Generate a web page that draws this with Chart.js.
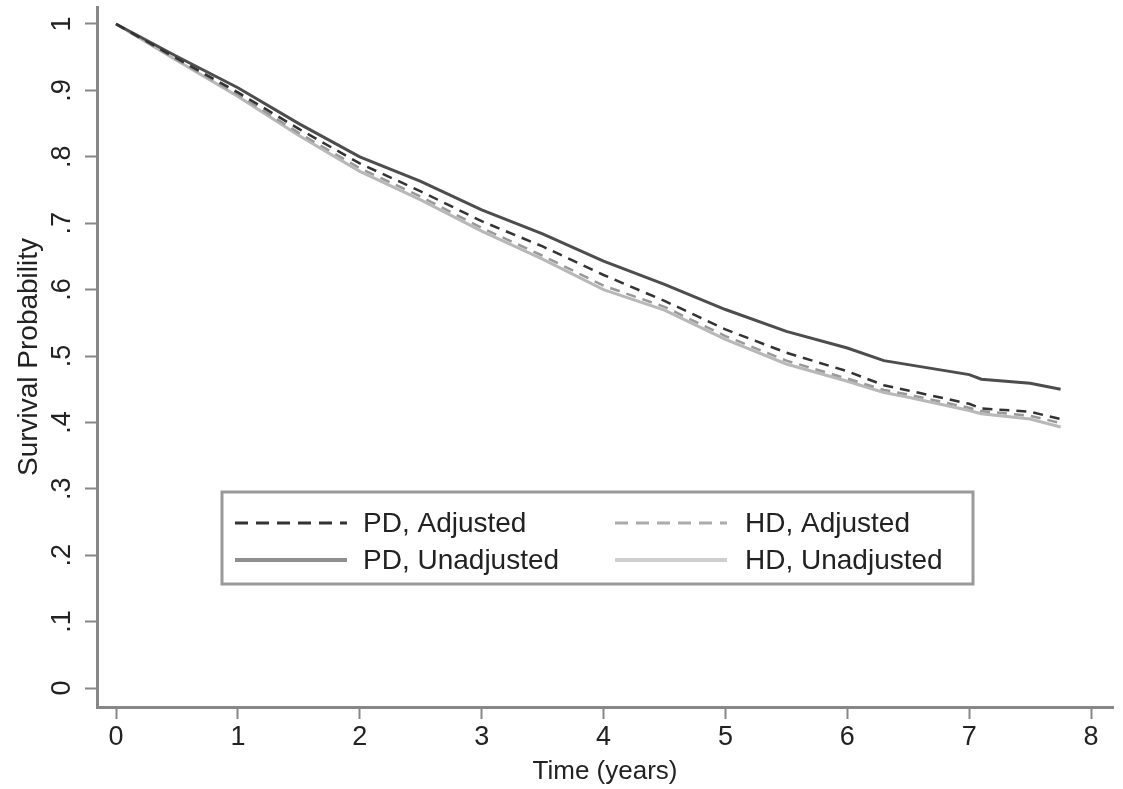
<!DOCTYPE html>
<html>
<head>
<meta charset="utf-8">
<script src="https://cdn.jsdelivr.net/npm/chart.js@4.4.0/dist/chart.umd.min.js"></script>
<style>
  html, body { margin: 0; padding: 0; background: #ffffff; }
  #wrap { width: 1123px; height: 789px; }
</style>
</head>
<body>
<div id="wrap"><canvas id="c" width="1123" height="789"></canvas></div>
<script>
// ---- data ----
const times = [0, 0.5, 1, 1.5, 2, 2.5, 3, 3.5, 4, 4.5, 5, 5.5, 6, 6.3, 6.5, 7, 7.1, 7.5, 7.75];
const pdUnadjusted = [1, 0.951, 0.904, 0.850, 0.800, 0.763, 0.720, 0.684, 0.643, 0.608, 0.570, 0.537, 0.512, 0.493, 0.487, 0.472, 0.465, 0.459, 0.450];
const pdAdjusted   = [1, 0.948, 0.897, 0.842, 0.790, 0.748, 0.703, 0.665, 0.622, 0.583, 0.540, 0.505, 0.477, 0.456, 0.448, 0.428, 0.421, 0.416, 0.405];
const hdAdjusted   = [1, 0.946, 0.894, 0.836, 0.783, 0.740, 0.693, 0.651, 0.606, 0.574, 0.530, 0.493, 0.466, 0.449, 0.442, 0.422, 0.417, 0.410, 0.399];
const hdUnadjusted = [1, 0.945, 0.891, 0.832, 0.778, 0.735, 0.688, 0.646, 0.600, 0.569, 0.525, 0.488, 0.462, 0.445, 0.438, 0.418, 0.413, 0.405, 0.393];
const seriesLabels = ['PD, Adjusted', 'PD, Unadjusted', 'HD, Adjusted', 'HD, Unadjusted'];
const xTickValues = [0, 1, 2, 3, 4, 5, 6, 7, 8];
const yTickValues = [0, 0.1, 0.2, 0.3, 0.4, 0.5, 0.6, 0.7, 0.8, 0.9, 1];
const yTickLabels = ['0', '.1', '.2', '.3', '.4', '.5', '.6', '.7', '.8', '.9', '1'];
const xTitle = 'Time (years)';
const yTitle = 'Survival Probability';

const FONT = '"Liberation Sans", Arial, Helvetica, sans-serif';
const TEXT = '#222222';
const AXIS = '#878787';

const toPts = vals => times.map((t, i) => ({ x: t, y: vals[i] }));

const styles = [
  { color: '#333333', legendColor: '#333333', dash: [10, 7], width: 2.5, legendWidth: 3, legendDash: [13, 8], order: 0 },
  { color: '#4d4d4d', legendColor: '#8e8e8e', dash: [],      width: 3,   legendWidth: 4, legendDash: [],     order: 1 },
  { color: '#999999', legendColor: '#ababab', dash: [10, 7], width: 2.5, legendWidth: 3, legendDash: [13, 8], order: 2 },
  { color: '#b8b8b8', legendColor: '#cfcfcf', dash: [],      width: 3,   legendWidth: 4, legendDash: [],     order: 3 }
];
const seriesData = [pdAdjusted, pdUnadjusted, hdAdjusted, hdUnadjusted];

const datasets = seriesData.map((vals, i) => ({
  label: seriesLabels[i],
  data: toPts(vals),
  borderColor: styles[i].color,
  borderDash: styles[i].dash,
  borderWidth: styles[i].width,
  pointRadius: 0,
  tension: 0,
  fill: false,
  order: styles[i].order
}));

const customDraw = {
  id: 'customDraw',
  afterDraw(chart) {
    const ctx = chart.ctx;
    const ys = chart.scales.y;
    // rotated y tick labels
    ctx.save();
    ctx.fillStyle = TEXT;
    ctx.font = '27px ' + FONT;
    ctx.textAlign = 'center';
    ctx.textBaseline = 'middle';
    yTickValues.forEach((v, i) => {
      const py = ys.getPixelForValue(v);
      ctx.save();
      ctx.translate(63, py);
      ctx.rotate(-Math.PI / 2);
      ctx.fillText(yTickLabels[i], 0, 0);
      ctx.restore();
    });
    ctx.restore();

    // legend box
    const bx = 222, by = 492, bw = 751, bh = 92;
    ctx.save();
    ctx.strokeStyle = '#9a9a9a';
    ctx.lineWidth = 3;
    ctx.strokeRect(bx, by, bw, bh);
    const cols = [{ sx: 235, ex: 347, tx: 363 }, { sx: 615, ex: 727, tx: 745 }];
    const rows = [523, 560];
    const layout = [[0, 0], [1, 0], [0, 1], [1, 1]]; // [row, col] for dataset index
    ctx.font = '28px ' + FONT;
    ctx.textBaseline = 'middle';
    ctx.textAlign = 'left';
    chart.data.datasets.forEach((ds, i) => {
      const [r, c] = layout[i];
      const col = cols[c], y = rows[r];
      ctx.beginPath();
      ctx.strokeStyle = styles[i].legendColor;
      ctx.lineWidth = styles[i].legendWidth;
      ctx.setLineDash(styles[i].legendDash);
      ctx.moveTo(col.sx, y);
      ctx.lineTo(col.ex, y);
      ctx.stroke();
      ctx.setLineDash([]);
      ctx.fillStyle = TEXT;
      ctx.fillText(ds.label, col.tx, y + 1);
    });
    ctx.restore();
  }
};

new Chart(document.getElementById('c'), {
  type: 'line',
  data: { datasets },
  options: {
    responsive: false,
    animation: false,
    devicePixelRatio: 1,
    layout: { padding: { top: 7, right: 10, left: 0, bottom: 0 } },
    plugins: { legend: { display: false }, tooltip: { enabled: false } },
    scales: {
      x: {
        type: 'linear',
        min: -0.156,
        max: 8.18,
        afterBuildTicks: s => { s.ticks = xTickValues.map(v => ({ value: v })); },
        afterFit: s => { s.height = 82; },
        ticks: {
          autoSkip: false, maxRotation: 0, minRotation: 0,
          color: TEXT, font: { family: FONT, size: 27 }, padding: 2,
          callback: v => String(v)
        },
        grid: { drawOnChartArea: false, drawTicks: true, tickLength: 12, tickColor: AXIS, tickWidth: 2 },
        border: { display: true, color: AXIS, width: 3 },
        title: { display: true, text: xTitle, color: TEXT, font: { family: FONT, size: 26 }, padding: { top: 0, bottom: 2 } }
      },
      y: {
        type: 'linear',
        min: -0.0286,
        max: 1.0256,
        afterBuildTicks: s => { s.ticks = yTickValues.map(v => ({ value: v })); },
        afterFit: s => { s.width = 97; },
        ticks: { display: false },
        grid: { drawOnChartArea: false, drawTicks: true, tickLength: 12, tickColor: AXIS, tickWidth: 2 },
        border: { display: true, color: AXIS, width: 3 },
        title: { display: true, text: yTitle, color: TEXT, font: { family: FONT, size: 28 }, padding: { top: 12, bottom: 0 } }
      }
    }
  },
  plugins: [customDraw]
});
</script>
</body>
</html>
